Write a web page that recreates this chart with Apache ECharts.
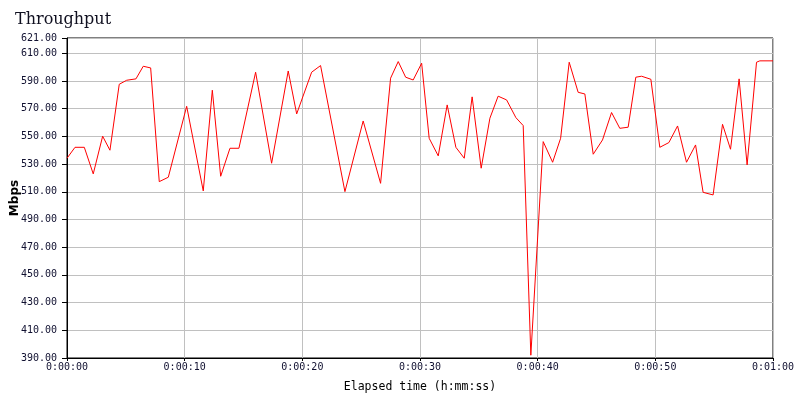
<!DOCTYPE html>
<html>
<head>
<meta charset="utf-8">
<script src="https://cdn.jsdelivr.net/npm/echarts@6/dist/echarts.min.js"></script>
<style>
html,body{margin:0;padding:0;background:#fff;}
#chart{width:800px;height:400px;}
</style>
</head>
<body>
<div id="chart"></div>
<script>
// Elapsed time in seconds
var elapsedSeconds = [0.00,0.68,1.47,2.23,3.03,3.65,4.44,5.07,5.86,6.48,7.11,7.84,8.61,10.17,11.58,12.35,13.06,13.85,14.61,16.03,17.39,18.80,19.52,20.79,21.55,23.62,25.17,26.65,27.50,28.15,28.78,29.42,30.14,30.78,31.55,32.31,33.05,33.76,34.43,35.20,35.94,36.64,37.36,38.15,38.77,39.42,40.47,41.27,41.95,42.68,43.44,44.01,44.72,45.51,46.28,46.98,47.69,48.34,48.83,49.62,50.38,51.15,51.89,52.65,53.42,54.06,54.91,55.71,56.39,57.12,57.80,58.60,58.88,60.00];
// Throughput in Mbps
var throughputMbps = [534.2,542.1,542.1,522.9,550.1,540.0,587.6,590.5,591.5,600.6,599.4,517.3,520.5,571.7,510.6,583.3,521.2,541.4,541.4,596.3,530.6,597.2,566.2,596.3,601.1,510.1,561.1,516.1,592.0,604.0,592.7,590.7,602.8,548.6,535.9,572.7,542.1,534.2,578.5,527.0,563.1,579.0,576.3,563.5,557.8,392.0,546.2,531.3,548.6,603.5,581.8,580.6,537.1,547.4,567.2,555.8,556.6,592.7,593.4,591.2,542.1,545.5,557.5,531.3,543.8,509.6,507.7,558.7,540.7,591.5,529.4,603.5,604.5,604.5];
var xTickSeconds = [0,10,20,30,40,50,60];
var yMin = 390, yMax = 621, yInterval = 20;

function fmtTime(s){
  s = Math.round(s);
  var h = Math.floor(s/3600), m = Math.floor((s%3600)/60), sec = s%60;
  return h + ':' + (m<10?'0':'') + m + ':' + (sec<10?'0':'') + sec;
}

var seriesData = elapsedSeconds.map(function(t,i){ return [t, throughputMbps[i]]; });

var chart = echarts.init(document.getElementById('chart'), null, {renderer:'canvas'});
chart.setOption({
  animation:false,
  backgroundColor:'#fff',
  title:{
    text:'Throughput', left:10, top:7,
    textStyle:{fontFamily:'DejaVu Serif', fontSize:16, fontWeight:'normal', color:'#101020'}
  },
  grid:{left:67, right:27, top:38, bottom:42, containLabel:false, outerBoundsMode:'none',
        show:true, borderColor:'#000', borderWidth:1, backgroundColor:'transparent'},
  xAxis:{
    type:'value', min:xTickSeconds[0], max:xTickSeconds[xTickSeconds.length-1], interval:10,
    name:'Elapsed time (h:mm:ss)', nameLocation:'middle', nameGap:23, nameMoveOverlap:false,
    nameTextStyle:{fontFamily:'DejaVu Sans Mono', fontSize:11.5, color:'#000'},
    axisLine:{show:true, lineStyle:{color:'#000', width:1}},
    axisTick:{show:true, length:3, lineStyle:{color:'#000'}},
    axisLabel:{margin:4, fontFamily:'DejaVu Sans Mono', fontSize:10, color:'#101030', formatter:function(v){return fmtTime(v);}},
    splitLine:{show:true, lineStyle:{color:'#c0c0c0', width:1}}
  },
  yAxis:{
    type:'value', min:yMin, max:yMax, interval:yInterval,
    name:'Mbps', nameLocation:'middle', nameGap:46, nameMoveOverlap:false,
    nameTextStyle:{fontFamily:'DejaVu Sans', fontSize:12, fontWeight:'bold', color:'#000'},
    axisLine:{show:true, lineStyle:{color:'#000', width:1}},
    axisTick:{show:true, length:5, lineStyle:{color:'#000'}},
    axisLabel:{margin:10, fontFamily:'DejaVu Sans Mono', fontSize:10, color:'#101030', showMaxLabel:true, showMinLabel:true, formatter:function(v){return v.toFixed(2);}},
    splitLine:{show:true, lineStyle:{color:'#c0c0c0', width:1}}
  },
  series:[{
    type:'line', data:seriesData, showSymbol:false, symbol:'none', smooth:false,
    lineStyle:{color:'#ff0000', width:1}, itemStyle:{color:'#ff0000'}
  }]
});
</script>
</body>
</html>
